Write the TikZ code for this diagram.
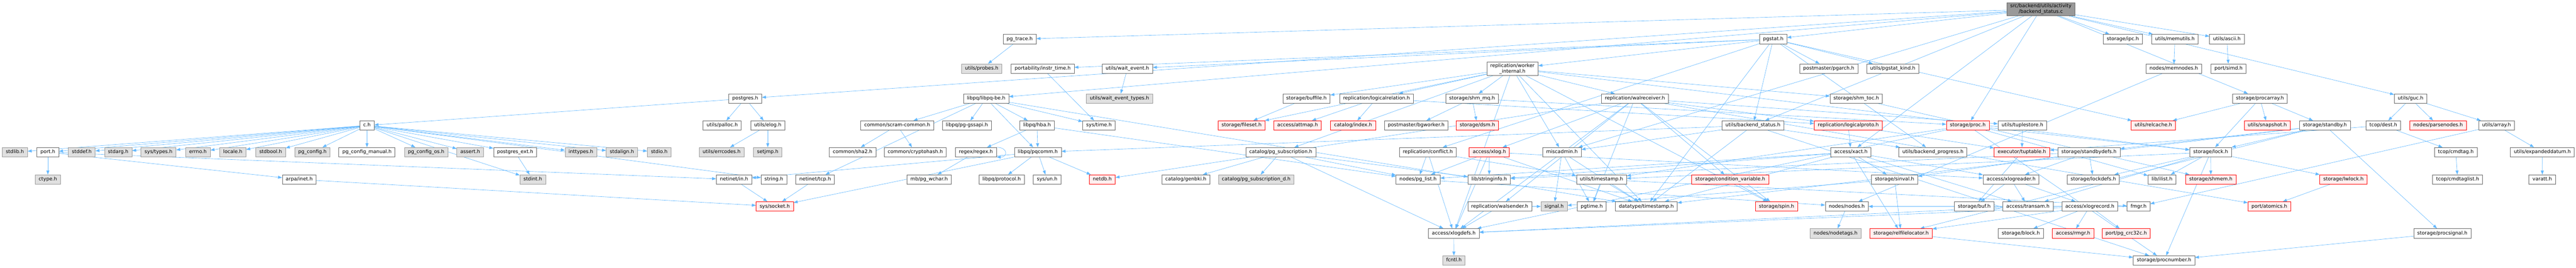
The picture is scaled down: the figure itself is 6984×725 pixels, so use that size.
\documentclass[tikz,border=0pt]{standalone}
\usepackage{fontspec}
\setmainfont{DejaVu Sans}
\usepackage{tikz}
\usetikzlibrary{arrows.meta,backgrounds}

\definecolor{edgeblue}{HTML}{63B8FF}
\definecolor{boxline}{HTML}{666666}
\definecolor{sysfill}{HTML}{E0E0E0}
\definecolor{sysline}{HTML}{999999}
\definecolor{truncfill}{HTML}{FFF0F0}
\definecolor{rootfill}{HTML}{999999}

\begin{document}
\begin{tikzpicture}[
		x=1pt, y=-1pt,
		inc/.style={draw=boxline, fill=white, line width=1.1pt, font=\fontsize{13.3}{15.5}\selectfont, inner xsep=9.5pt, inner ysep=0pt, minimum height=25.5pt, text height=9.8pt, text depth=2.7pt},
		sys/.style={inc, draw=sysline, fill=sysfill},
		trunc/.style={inc, draw=red, fill=truncfill},
		twoline/.style={align=center, text height=, text depth=, inner ysep=3.5pt},
		rootfile/.style={inc, twoline, fill=rootfill},
		dep/.style={draw=edgeblue, line width=0.9pt, -{Triangle[length=11pt,width=8pt]}}
	]
	\useasboundingbox (0,0) rectangle (6984,725);

	% the file itself
	\node[rootfile] (main) at (5533,25) {src/backend/utils/activity\\/backend\_status.c};

	% rank 1
	\node[inc] (pgtrace) at (2764.5,106) {pg\_trace.h};
	\node[inc] (pgstat) at (4807.5,106) {pgstat.h};
	\node[inc] (ipc) at (5755.5,106) {storage/ipc.h};
	\node[inc] (memutils) at (5896.5,106) {utils/memutils.h};
	\node[inc] (ascii) at (6037.5,106) {utils/ascii.h};

	% rank 2
	\node[sys] (probes) at (2661.5,186) {utils/probes.h};
	\node[inc] (instrtime) at (2827,186) {portability/instr\_time.h};
	\node[inc] (waitevent) at (3056.5,186) {utils/wait\_event.h};
	\node[inc, twoline] (workerint) at (4100.5,186) {replication/worker\\\_internal.h};
	\node[inc] (pgarch) at (4958,186) {postmaster/pgarch.h};
	\node[inc] (pgstatkind) at (5131.5,186) {utils/pgstat\_kind.h};
	\node[inc] (memnodes) at (5893.5,186) {nodes/memnodes.h};
	\node[inc] (simd) at (6042,186) {port/simd.h};

	% rank 3
	\node[inc] (postgres) at (2020.5,267) {postgres.h};
	\node[inc] (libpqbe) at (2673.5,267) {libpq/libpq-be.h};
	\node[sys] (waittypes) at (3035,267) {utils/wait\_event\_types.h};
	\node[inc] (buffile) at (3542,267) {storage/buffile.h};
	\node[inc] (logicalrel) at (3732,267) {replication/logicalrelation.h};
	\node[inc] (shmmq) at (3991,267) {storage/shm\_mq.h};
	\node[inc] (walrecv) at (4432.5,267) {replication/walreceiver.h};
	\node[inc] (shmtoc) at (5032.5,267) {storage/shm\_toc.h};
	\node[inc] (procarray) at (6127,267) {storage/procarray.h};
	\node[inc] (guc) at (6535.5,267) {utils/guc.h};

	% rank 4
	\node[inc] (ch) at (995,340) {c.h};
	\node[inc] (palloc) at (1958,340) {utils/palloc.h};
	\node[inc] (elog) at (2081.5,340) {utils/elog.h};
	\node[inc] (scram) at (2432.5,340) {common/scram-common.h};
	\node[inc] (gssapi) at (2621.5,340) {libpq/pg-gssapi.h};
	\node[inc] (hba) at (2811.5,340) {libpq/hba.h};
	\node[inc] (systime) at (2979.5,340) {sys/time.h};
	\node[trunc] (fileset) at (3366,340) {storage/fileset.h};
	\node[trunc] (attmap) at (3518,340) {access/attmap.h};
	\node[trunc] (index) at (3668.5,340) {catalog/index.h};
	\node[inc] (bgworker) at (3839.5,340) {postmaster/bgworker.h};
	\node[trunc] (dsm) at (4005.5,340) {storage/dsm.h};
	\node[inc] (bestatus) at (4752.5,340) {utils/backend\_status.h};
	\node[trunc] (logicalproto) at (5011,340) {replication/logicalproto.h};
	\node[trunc] (proc) at (5335,340) {storage/proc.h};
	\node[inc] (tuplestore) at (5483,340) {utils/tuplestore.h};
	\node[trunc] (relcache) at (5838,340) {utils/relcache.h};
	\node[trunc] (snapshot) at (6147,340) {utils/snapshot.h};
	\node[inc] (standby) at (6303,340) {storage/standby.h};
	\node[inc] (dest) at (6461.5,340) {tcop/dest.h};
	\node[trunc] (parsenodes) at (6610,340) {nodes/parsenodes.h};
	\node[inc] (array) at (6768.5,340) {utils/array.h};

	% rank 5
	\node[sys] (stdlib) at (40.3,412.5) {stdlib.h};
	\node[inc] (port) at (129.8,412.5) {port.h};
	\node[sys] (stddef) at (221.8,412.5) {stddef.h};
	\node[sys] (stdarg) at (320.5,412.5) {stdarg.h};
	\node[sys] (systypes) at (429.8,412.5) {sys/types.h};
	\node[sys] (errno) at (536.6,412.5) {errno.h};
	\node[sys] (locale) at (631.3,412.5) {locale.h};
	\node[sys] (stdbool) at (733.8,412.5) {stdbool.h};
	\node[sys] (pgconfig) at (847,412.5) {pg\_config.h};
	\node[inc] (pgmanual) at (995,412.5) {pg\_config\_manual.h};
	\node[sys] (pgos) at (1155.3,412.5) {pg\_config\_os.h};
	\node[sys] (assert) at (1275,412.5) {assert.h};
	\node[inc] (pgext) at (1396.5,412.5) {postgres\_ext.h};
	\node[sys] (inttypes) at (1575,412.5) {inttypes.h};
	\node[sys] (stdalign) at (1686,412.5) {stdalign.h};
	\node[sys] (stdio) at (1787.3,412.5) {stdio.h};
	\node[sys] (errcodes) at (1956.5,412.5) {utils/errcodes.h};
	\node[sys] (setjmp) at (2081.5,412.5) {setjmp.h};
	\node[inc] (sha2) at (2311.5,412.5) {common/sha2.h};
	\node[inc] (cryptohash) at (2481.5,412.5) {common/cryptohash.h};
	\node[inc] (regex) at (2645.7,412.5) {regex/regex.h};
	\node[inc] (pqcomm) at (2813.7,412.5) {libpq/pqcomm.h};
	\node[inc] (pgsub) at (3472.3,412.5) {catalog/pg\_subscription.h};
	\node[inc] (conflict) at (3871,412.5) {replication/conflict.h};
	\node[trunc] (xlog) at (4037.8,412.5) {access/xlog.h};
	\node[inc] (miscadmin) at (4234.8,412.5) {miscadmin.h};
	\node[inc] (xact) at (5018,412.5) {access/xact.h};
	\node[inc] (beprogress) at (5240.5,412.5) {utils/backend\_progress.h};
	\node[trunc] (tuptable) at (5481.8,412.5) {executor/tuptable.h};
	\node[inc] (standbydefs) at (5663.5,412.5) {storage/standbydefs.h};
	\node[inc] (lock) at (5993.5,412.5) {storage/lock.h};
	\node[inc] (cmdtag) at (6658,412.5) {tcop/cmdtag.h};
	\node[inc] (expanded) at (6892.8,412.5) {utils/expandeddatum.h};

	% rank 6
	\node[sys] (ctype) at (129.8,486.5) {ctype.h};
	\node[inc] (arpainet) at (811.3,486.5) {arpa/inet.h};
	\node[sys] (stdint) at (1444.5,486.5) {stdint.h};
	\node[inc] (netin) at (1990,486.5) {netinet/in.h};
	\node[inc] (string) at (2098,486.5) {string.h};
	\node[inc] (nettcp) at (2210,486.5) {netinet/tcp.h};
	\node[inc] (pgwchar) at (2519,486.5) {mb/pg\_wchar.h};
	\node[inc] (protocol) at (2715.5,486.5) {libpq/protocol.h};
	\node[inc] (sysun) at (2839,486.5) {sys/un.h};
	\node[trunc] (netdb) at (2988.5,486.5) {netdb.h};
	\node[inc] (genbki) at (3215,486.5) {catalog/genbki.h};
	\node[sys] (pgsubd) at (3405.8,486.5) {catalog/pg\_subscription\_d.h};
	\node[inc] (pglist) at (3844.5,486.5) {nodes/pg\_list.h};
	\node[inc] (stringinfo) at (4037.5,486.5) {lib/stringinfo.h};
	\node[inc] (timestamp) at (4342,486.5) {utils/timestamp.h};
	\node[trunc] (condvar) at (4691,486.5) {storage/condition\_variable.h};
	\node[inc] (sinval) at (5136.5,486.5) {storage/sinval.h};
	\node[inc] (xlogreader) at (5452.5,486.5) {access/xlogreader.h};
	\node[inc] (lockdefs) at (5675.3,486.5) {storage/lockdefs.h};
	\node[inc] (ilist) at (5861.5,486.5) {lib/ilist.h};
	\node[trunc] (shmem) at (5994,486.5) {storage/shmem.h};
	\node[trunc] (lwlock) at (6353.5,486.5) {storage/lwlock.h};
	\node[inc] (cmdtaglist) at (6663,486.5) {tcop/cmdtaglist.h};
	\node[inc] (varatt) at (6892.5,486.5) {varatt.h};

	% rank 7
	\node[trunc] (syssocket) at (2100.5,559.5) {sys/socket.h};
	\node[inc] (walsender) at (4066,559.5) {replication/walsender.h};
	\node[sys] (signal) at (4213.5,559.5) {signal.h};
	\node[inc] (pgtime) at (4315.3,559.5) {pgtime.h};
	\node[inc] (dtimestamp) at (4463.5,559.5) {datatype/timestamp.h};
	\node[trunc] (spin) at (4816.5,559.5) {storage/spin.h};
	\node[inc] (nodes) at (5007,559.5) {nodes/nodes.h};
	\node[inc] (buf) at (5352.5,559.5) {storage/buf.h};
	\node[inc] (transam) at (5498,559.5) {access/transam.h};
	\node[inc] (xlogrecord) at (5665.8,559.5) {access/xlogrecord.h};
	\node[inc] (fmgr) at (5798,559.5) {fmgr.h};
	\node[trunc] (atomics) at (6152.5,559.5) {port/atomics.h};

	% rank 8
	\node[inc] (xlogdefs) at (3941.5,632.5) {access/xlogdefs.h};
	\node[sys] (nodetags) at (4976.5,632.5) {nodes/nodetags.h};
	\node[trunc] (relfile) at (5154,632.5) {storage/relfilelocator.h};
	\node[inc] (block) at (5478.8,632.5) {storage/block.h};
	\node[trunc] (rmgr) at (5620.5,632.5) {access/rmgr.h};
	\node[trunc] (pgcrc) at (5764.5,632.5) {port/pg\_crc32c.h};
	\node[inc] (procsignal) at (6621.5,632.5) {storage/procsignal.h};

	% rank 9
	\node[sys] (fcntl) at (3941.8,706) {fcntl.h};
	\node[inc] (procnumber) at (5867,706) {storage/procnumber.h};

	\begin{scope}[on background layer]
		% includes of the file itself
		\draw[dep] (main) -- (postgres); \draw[dep] (main) -- (xact); \draw[dep] (main) -- (libpqbe);
		\draw[dep] (main) -- (miscadmin); \draw[dep] (main) -- (pgtrace); \draw[dep] (main) -- (pgstat);
		\draw[dep] (main) -- (ipc); \draw[dep] (main) -- (proc); \draw[dep] (main) -- (procarray);
		\draw[dep] (main) -- (ascii); \draw[dep] (main) -- (bestatus); \draw[dep] (main) -- (guc);
		\draw[dep] (main) -- (memutils);
		% postgres.h and c.h
		\draw[dep] (postgres) -- (ch); \draw[dep] (postgres) -- (palloc); \draw[dep] (postgres) -- (elog);
		\draw[dep] (ch) -- (stdlib); \draw[dep] (ch) -- (port); \draw[dep] (ch) -- (stddef);
		\draw[dep] (ch) -- (stdarg); \draw[dep] (ch) -- (systypes); \draw[dep] (ch) -- (errno);
		\draw[dep] (ch) -- (locale); \draw[dep] (ch) -- (stdbool); \draw[dep] (ch) -- (pgconfig);
		\draw[dep] (ch) -- (pgmanual); \draw[dep] (ch) -- (pgos); \draw[dep] (ch) -- (assert);
		\draw[dep] (ch) -- (pgext); \draw[dep] (ch) -- (stdint); \draw[dep] (ch) -- (inttypes);
		\draw[dep] (ch) -- (stdalign); \draw[dep] (ch) -- (stdio); \draw[dep] (ch) -- (string);
		\draw[dep] (port) -- (ctype); \draw[dep] (port) -- (netin); \draw[dep] (port) -- (arpainet);
		\draw[dep] (arpainet) -- (syssocket);
		\draw[dep] (pgext) -- (stdint);
		\draw[dep] (elog) -- (errcodes); \draw[dep] (elog) -- (setjmp);
		\draw[dep] (pgtrace) -- (probes);
		% libpq
		\draw[dep] (libpqbe) -- (scram); \draw[dep] (libpqbe) -- (gssapi); \draw[dep] (libpqbe) -- (hba);
		\draw[dep] (libpqbe) -- (pqcomm); \draw[dep] (libpqbe) -- (systime); \draw[dep] (libpqbe) -- (nettcp);
		\draw[dep] (libpqbe) -- (dtimestamp);
		\draw[dep] (scram) -- (sha2); \draw[dep] (scram) -- (cryptohash);
		\draw[dep] (hba) -- (regex); \draw[dep] (hba) -- (pqcomm); \draw[dep] (hba) -- (pglist);
		\draw[dep] (regex.north east) to[out=0, in=0, looseness=3] (regex.south east);
		\draw[dep] (regex) -- (pgwchar);
		\draw[dep] (pqcomm) -- (protocol); \draw[dep] (pqcomm) -- (sysun); \draw[dep] (pqcomm) -- (netdb);
		\draw[dep] (pqcomm) -- (syssocket); \draw[dep] (pqcomm) -- (netin);
		\draw[dep] (nettcp) -- (syssocket); \draw[dep] (netin) -- (syssocket);
		\draw[dep] (instrtime) -- (systime);
		\draw[dep] (waitevent) -- (waittypes);
		% pgstat.h
		\draw[dep] (pgstat) -- (instrtime); \draw[dep] (pgstat) -- (waitevent); \draw[dep] (pgstat) -- (pgarch);
		\draw[dep] (pgstat) -- (pgstatkind); \draw[dep] (pgstat) -- (bestatus); \draw[dep] (pgstat) -- (conflict);
		\draw[dep] (pgstat) -- (beprogress); \draw[dep] (pgstat) -- (relcache); \draw[dep] (pgstat) -- (dtimestamp);
		\draw[dep] (pgstat) -- (workerint);
		% replication
		\draw[dep] (workerint) -- (xlogdefs); \draw[dep] (workerint) -- (pgsub); \draw[dep] (workerint) -- (dtimestamp);
		\draw[dep] (workerint) -- (miscadmin); \draw[dep] (workerint) -- (logicalrel); \draw[dep] (workerint) -- (walrecv);
		\draw[dep] (workerint) -- (buffile); \draw[dep] (workerint) -- (fileset); \draw[dep] (workerint) -- (lock);
		\draw[dep] (workerint) -- (shmmq); \draw[dep] (workerint) -- (shmtoc); \draw[dep] (workerint) -- (spin);
		\draw[dep] (buffile) -- (fileset);
		\draw[dep] (logicalrel) -- (attmap); \draw[dep] (logicalrel) -- (index); \draw[dep] (logicalrel) -- (logicalproto);
		\draw[dep] (shmmq) -- (bgworker); \draw[dep] (shmmq) -- (dsm); \draw[dep] (shmmq) -- (proc);
		\draw[dep] (walrecv) -- (xlog); \draw[dep] (walrecv) -- (xlogdefs); \draw[dep] (walrecv) -- (netdb);
		\draw[dep] (walrecv) -- (pgtime); \draw[dep] (walrecv) -- (atomics); \draw[dep] (walrecv) -- (logicalproto);
		\draw[dep] (walrecv) -- (walsender); \draw[dep] (walrecv) -- (condvar); \draw[dep] (walrecv) -- (spin);
		\draw[dep] (walrecv) -- (tuplestore);
		\draw[dep] (pgsub) -- (xlogdefs); \draw[dep] (pgsub) -- (genbki); \draw[dep] (pgsub) -- (pgsubd);
		\draw[dep] (pgsub) -- (stringinfo); \draw[dep] (pgsub) -- (pglist);
		\draw[dep] (conflict) -- (xlogdefs); \draw[dep] (conflict) -- (pglist); \draw[dep] (conflict) -- (timestamp);
		\draw[dep] (xlog) -- (xlogdefs); \draw[dep] (xlog) -- (xlogreader); \draw[dep] (xlog) -- (dtimestamp);
		\draw[dep] (xlog) -- (stringinfo); \draw[dep] (xlog) -- (pglist);
		\draw[dep] (miscadmin) -- (signal); \draw[dep] (miscadmin) -- (pgtime); \draw[dep] (miscadmin) -- (dtimestamp);
		\draw[dep] (timestamp) -- (dtimestamp); \draw[dep] (timestamp) -- (fmgr); \draw[dep] (timestamp) -- (pgtime);
		\draw[dep] (walsender) -- (signal); \draw[dep] (walsender) -- (xlogdefs);
		\draw[dep] (xlogdefs) -- (fcntl);
		% backend status
		\draw[dep] (bestatus) -- (dtimestamp); \draw[dep] (bestatus) -- (pqcomm); \draw[dep] (bestatus) -- (miscadmin);
		\draw[dep] (bestatus) -- (procnumber); \draw[dep] (bestatus) -- (beprogress);
		\draw[dep] (shmtoc) -- (shmem);
		\draw[dep] (logicalproto) -- (xact); \draw[dep] (logicalproto) -- (tuptable);
		\draw[dep] (xact) -- (transam); \draw[dep] (xact) -- (xlogreader); \draw[dep] (xact) -- (dtimestamp);
		\draw[dep] (xact) -- (stringinfo); \draw[dep] (xact) -- (pglist); \draw[dep] (xact) -- (relfile);
		\draw[dep] (xact) -- (sinval);
		\draw[dep] (sinval) -- (signal); \draw[dep] (sinval) -- (relfile);
		\draw[dep] (relfile) -- (procnumber);
		\draw[dep] (condvar) -- (spin);
		\draw[dep] (pglist) -- (nodes); \draw[dep] (nodes) -- (nodetags); \draw[dep] (fmgr) -- (nodes);
		% storage
		\draw[dep] (proc) -- (xlogdefs); \draw[dep] (proc) -- (ilist); \draw[dep] (proc) -- (lock);
		\draw[dep] (proc) -- (procnumber); \draw[dep] (proc) -- (timestamp);
		\draw[dep] (tuplestore) -- (tuptable); \draw[dep] (tuptable) -- (buf);
		\draw[dep] (xlogreader) -- (transam); \draw[dep] (xlogreader) -- (xlogrecord); \draw[dep] (xlogreader) -- (buf);
		\draw[dep] (xlogrecord) -- (rmgr); \draw[dep] (xlogrecord) -- (xlogdefs); \draw[dep] (xlogrecord) -- (pgcrc);
		\draw[dep] (xlogrecord) -- (block); \draw[dep] (xlogrecord) -- (relfile);
		\draw[dep] (transam) -- (xlogdefs);
		\draw[dep] (standbydefs) -- (xlogreader); \draw[dep] (standbydefs) -- (stringinfo);
		\draw[dep] (standbydefs) -- (lockdefs); \draw[dep] (standbydefs) -- (sinval);
		\draw[dep] (standby) -- (dtimestamp); \draw[dep] (standby) -- (lock); \draw[dep] (standby) -- (procsignal);
		\draw[dep] (standby) -- (relfile); \draw[dep] (standby) -- (standbydefs);
		\draw[dep] (procarray) -- (lock); \draw[dep] (procarray) -- (standby); \draw[dep] (procarray) -- (relcache);
		\draw[dep] (procarray) -- (snapshot);
		\draw[dep] (lock) -- (transam); \draw[dep] (lock) -- (ilist); \draw[dep] (lock) -- (lockdefs);
		\draw[dep] (lock) -- (lwlock); \draw[dep] (lock) -- (shmem); \draw[dep] (lock) -- (timestamp);
		\draw[dep] (lock) -- (procnumber);
		\draw[dep] (lwlock) -- (atomics);
		\draw[dep] (memutils) -- (memnodes); \draw[dep] (memnodes) -- (nodes);
		\draw[dep] (ascii) -- (simd);
		% guc
		\draw[dep] (guc) -- (parsenodes); \draw[dep] (guc) -- (dest); \draw[dep] (guc) -- (array);
		\draw[dep] (dest) -- (cmdtag); \draw[dep] (dest) -- (tuptable);
		\draw[dep] (cmdtag) -- (cmdtaglist);
		\draw[dep] (array) -- (fmgr); \draw[dep] (array) -- (expanded);
		\draw[dep] (expanded) -- (varatt);
		\draw[dep] (procsignal) -- (procnumber);
	\end{scope}
\end{tikzpicture}
\end{document}
